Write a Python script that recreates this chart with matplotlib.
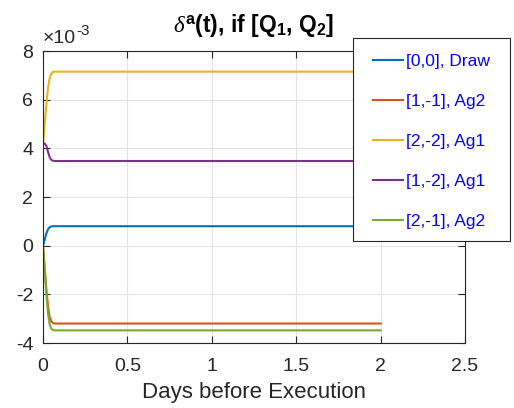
import numpy as np
import matplotlib
matplotlib.use('Agg')
import matplotlib.pyplot as plt
from matplotlib.patches import Rectangle

plt.rcParams['font.family'] = ['Liberation Sans', 'DejaVu Sans']
plt.rcParams['axes.unicode_minus'] = False
plt.rcParams['mathtext.fontset'] = 'custom'
plt.rcParams['mathtext.rm'] = 'Liberation Sans'
plt.rcParams['mathtext.it'] = 'Liberation Serif:italic'
plt.rcParams['mathtext.bf'] = 'Liberation Sans:bold'

# days before execution (samples)
t = [0.0, 0.01, 0.02, 0.03, 0.04, 0.05, 0.06, 0.07, 0.08, 2.0]

# delta^a values, units of 1e-3
draw_00 = [0.0, 0.25, 0.5, 0.68, 0.76, 0.79, 0.8, 0.8, 0.8, 0.8]
ag2_1m1 = [0.0, -0.9, -1.8, -2.5, -2.95, -3.12, -3.18, -3.2, -3.2, -3.2]
ag1_2m2 = [4.2, 5.0, 5.8, 6.5, 6.9, 7.08, 7.14, 7.15, 7.15, 7.15]
ag1_1m2 = [4.2, 4.2, 4.1, 3.85, 3.62, 3.52, 3.49, 3.48, 3.48, 3.48]
ag2_2m1 = [0.0, -1.0, -2.0, -2.8, -3.25, -3.42, -3.47, -3.48, -3.48, -3.48]

labels = ['[0,0], Draw', '[1,-1], Ag2', '[2,-2], Ag1', '[1,-2], Ag1', '[2,-1], Ag2']
colors = ['#0072BD', '#D95319', '#EDB120', '#7E2F8E', '#77AC30']
series = [draw_00, ag2_1m1, ag1_2m2, ag1_1m2, ag2_2m1]

xticks = [0, 0.5, 1, 1.5, 2, 2.5]
xticklabels = ['0', '0.5', '1', '1.5', '2', '2.5']
yticks = [-4, -2, 0, 2, 4, 6, 8]

W, H = 514, 408
fig = plt.figure(figsize=(W / 100, H / 100), dpi=100)
ax = fig.add_axes([43/W, 1 - 343/H, (465 - 43)/W, (343 - 51)/H])

for y, c, lab in zip(series, colors, labels):
    ax.plot(t, y, color=c, lw=1.5, label=lab)

ax.set_xlim(0, 2.5)
ax.set_ylim(-4, 8)
ax.set_xticks(xticks)
ax.set_xticklabels(xticklabels)
ax.set_yticks(yticks)
ax.set_yticklabels([str(v) for v in yticks])

# exponent label, MATLAB style
base = ax.text(0.0, 1.012, '\u00d710', transform=ax.transAxes, fontsize=14,
               color='#262626', ha='left', va='bottom')
ax.annotate('-3', xy=(1.0, 0.55), xycoords=base, fontsize=11,
            color='#262626', ha='left', va='bottom')

ax.grid(True, color='#e3e3e3', lw=0.8)
ax.tick_params(direction='in', top=True, right=True, length=5,
               labelsize=14, colors='#262626', width=0.8)
ax.tick_params(axis='x', pad=11)
ax.tick_params(axis='y', pad=7)
for s in ax.spines.values():
    s.set_color('#262626')
    s.set_linewidth(0.8)

ax.set_xlabel('Days before Execution', fontsize=16, color='#262626', labelpad=5)
ax.set_title(r'$\mathit{\delta}^{\mathbf{a}}$(t), if [Q$_{\mathbf{1}}$, Q$_{\mathbf{2}}$]',
             fontsize=16.5, fontweight='bold', pad=14)

# legend box drawn by hand so it can stick out past the axes like in MATLAB
box = Rectangle((353/W, 1 - 241/H), (510 - 353)/W, (241 - 38)/H,
                transform=fig.transFigure, facecolor='white',
                edgecolor='#262626', lw=0.8, zorder=4)
fig.patches.append(box)

leg = fig.legend(loc='upper left', bbox_to_anchor=(373/W, 1 - 54/H),
                 borderaxespad=0, borderpad=0, frameon=False,
                 fontsize=12.5, handlelength=1.75,
                 handletextpad=0.15, labelspacing=1.43)
leg.set_zorder(5)
for txt in leg.get_texts():
    txt.set_color('#0000ff')

fig.savefig('out.png', dpi=100)
